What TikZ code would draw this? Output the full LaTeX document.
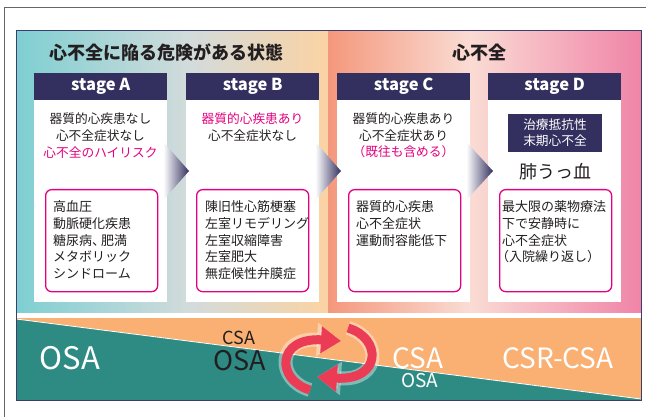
\documentclass[tikz,border=0pt]{standalone}
\usepackage{fontspec}
\setmainfont{Noto Sans CJK JP}
\usetikzlibrary{arrows.meta,calc}
\definecolor{navy}{HTML}{33305F}
\definecolor{mag}{HTML}{E4007F}
\definecolor{ink}{HTML}{231F20}
\definecolor{teal1}{HTML}{7ECFD2}
\definecolor{gray1}{HTML}{D3DBDB}
\definecolor{peach}{HTML}{FBD3A3}
\definecolor{salmon}{HTML}{F4987C}
\definecolor{pale}{HTML}{FADCD4}
\definecolor{pink1}{HTML}{F084A8}
\definecolor{bandor}{HTML}{F9B072}
\definecolor{bandte}{HTML}{2E8B84}
\definecolor{frame}{HTML}{3B3D6E}
\definecolor{cyc}{HTML}{EC3B55}
\tikzset{
  cardbody/.style={fill=white, draw=none, minimum width=133pt, minimum height=229pt, anchor=north west, inner sep=0},
  header/.style={fill=navy, text=white, minimum width=133pt, minimum height=27pt, anchor=north west, inner sep=0, font=\fontsize{16.5}{18}\selectfont\bfseries},
  ibox/.style={draw=mag, line width=1.3pt, rounded corners=6pt, fill=white, minimum width=112pt, minimum height=102pt, anchor=north west, inner sep=0},
  ctxt/.style={inner sep=0, text=ink, font=\fontsize{12.7}{14}\selectfont},
  btxt/.style={inner sep=0, anchor=west, text=ink, font=\fontsize{13}{14}\selectfont},
  chev/.style={left color=white, right color=navy},
  cycarrow/.style={draw=cyc, line width=9pt, -{Triangle[length=20pt,width=26pt]}},
  glow/.style={draw=white, line width=14pt, opacity=0.4, -{Triangle[length=24pt,width=32pt]}},
}
\begin{document}
\begin{tikzpicture}[x=1pt,y=-1pt]
\useasboundingbox (0,0) rectangle (646,417);
\fill[white] (0,0) rectangle (646,417);
% outer gray frame
\draw[gray!80!black, line width=1pt] (4.5,417) -- (4.5,8) -- (646,8);
% panel gradient
\shade[left color=teal1, right color=gray1] (16,31) rectangle (190,312);
\shade[left color=gray1, right color=peach] (190,31) rectangle (328,312);
\shade[left color=salmon, right color=pale] (328,31) rectangle (470,312);
\shade[left color=pale, right color=pink1] (470,31) rectangle (641,312);
% titles
\node[text=ink, font=\fontsize{18}{20}\selectfont\bfseries] (t1) at (166,53) {心不全に陥る危険がある状態};
\node[text=ink, font=\fontsize{18}{20}\selectfont\bfseries] (t2) at (479,53) {心不全};
% cards
\node[cardbody] (bA) at (34,73) {};
\node[cardbody] (bB) at (186,73) {};
\node[cardbody] (bC) at (337,73) {};
\node[cardbody] (bD) at (488,73) {};
\node[header] (hA) at (34,73) {stage A};
\node[header] (hB) at (186,73) {stage B};
\node[header] (hC) at (337,73) {stage C};
\node[header] (hD) at (488,73) {stage D};
% card texts
\node[ctxt] (a1) at (100.5,119) {器質的心疾患なし};
\node[ctxt] (a2) at (100.5,136) {心不全症状なし};
\node[ctxt, text=mag] (a3) at (100.5,153) {心不全のハイリスク};
\node[ctxt, text=mag] (b1) at (252.5,119) {器質的心疾患あり};
\node[ctxt] (b2) at (252.5,136) {心不全症状なし};
\node[ctxt] (c1) at (403.5,119) {器質的心疾患あり};
\node[ctxt] (c2) at (403.5,136) {心不全症状あり};
\node[ctxt, text=mag] (c3) at (403.5,152) {（既往も含める）};
\node[fill=navy, minimum width=94pt, minimum height=38pt, anchor=north west, inner sep=0] (dn) at (508,114) {};
\node[ctxt, text=white] (d1) at (555,125) {治療抵抗性};
\node[ctxt, text=white] (d2) at (555,141) {末期心不全};
\node[ctxt, font=\fontsize{18}{20}\selectfont] (d3) at (555,172) {肺うっ血};
% inner boxes
\node[ibox] (iA) at (45,189) {};
\node[ibox] (iB) at (196,189) {};
\node[ibox] (iC) at (348,189) {};
\node[ibox] (iD) at (499,189) {};
\foreach \t [count=\i] in {高血圧,動脈硬化疾患,糖尿病、\kern-4pt肥満,メタボリック,シンドローム}
  \node[btxt] (la\i) at (53,{207+16.6*(\i-1)}) {\t};
\foreach \t [count=\i] in {陳旧性心筋梗塞,左室リモデリング,左室収縮障害,左室肥大,無症候性弁膜症}
  \node[btxt] (lb\i) at (205,{207+16.6*(\i-1)}) {\t};
\foreach \t [count=\i] in {器質的心疾患,心不全症状,運動耐容能低下}
  \node[btxt] (lc\i) at (356,{207+16.6*(\i-1)}) {\t};
\foreach \t [count=\i] in {最大限の薬物療法,下で安静時に,心不全症状}
  \node[btxt] (ld\i) at (502,{207+16.6*(\i-1)}) {\t};
\node[btxt] (ld4) at (496,{207+16.6*3}) {（入院繰り返し）};
% chevrons
\shade[chev] ($(bA.north east)+(-4,69)$) -- ($(bB.north west)+(3,98)$) -- ($(bA.north east)+(-4,127)$) -- cycle;
\shade[chev] ($(bB.north east)+(-4,69)$) -- ($(bC.north west)+(4,98)$) -- ($(bB.north east)+(-4,127)$) -- cycle;
\shade[chev] ($(bC.north east)+(-4,69)$) -- ($(bD.north west)+(5,98)$) -- ($(bC.north east)+(-4,127)$) -- cycle;
% bottom band
\fill[bandor] (16,318) rectangle (641,400);
\fill[bandte] (16,319) -- (641,399) -- (641,400) -- (16,400) -- cycle;
\draw[white, line width=0.8pt] (16,319) -- (641,399);
% outer navy frame
\draw[frame, line width=1pt] (16,31) rectangle (641,400);
% band texts
\node[text=white, font=\fontsize{31}{32}\selectfont] (osa1) at (70,358) {OSA};
\node[text=ink, font=\fontsize{18}{20}\selectfont] (csa2) at (239,338) {CSA};
\node[text=ink, font=\fontsize{27}{28}\selectfont] (osa2) at (240,361) {OSA};
\node[text=white, font=\fontsize{28}{30}\selectfont] (csa3) at (418,358) {CSA};
\node[text=white, font=\fontsize{19}{20}\selectfont] (osa3) at (420,381) {OSA};
\node[text=white, font=\fontsize{28}{30}\selectfont] (csr) at (558,358) {CSR-CSA};
% cycle arrows
\coordinate (cy1s) at (310,390);
\coordinate (cy1e) at (341,341);
\coordinate (cy2s) at (348,328);
\coordinate (cy2e) at (317,377);
\draw[glow] (cy1s) .. controls (276,380) and (276,337) .. (cy1e);
\draw[glow] (cy2s) .. controls (382,338) and (382,381) .. (cy2e);
\draw[cycarrow] (cy1s) .. controls (276,380) and (276,337) .. (cy1e);
\draw[cycarrow] (cy2s) .. controls (382,338) and (382,381) .. (cy2e);
\end{tikzpicture}
\end{document}
